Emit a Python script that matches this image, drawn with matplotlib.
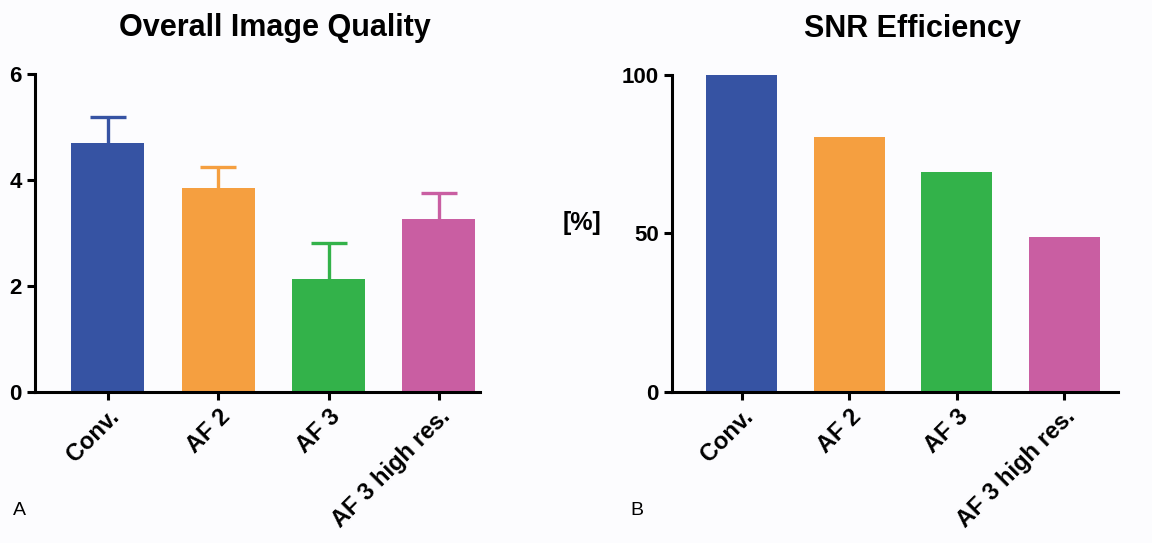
import matplotlib.pyplot as plt
import numpy as np

plt.rcParams['font.family'] = ['Liberation Sans', 'DejaVu Sans']

# data
groups = ['Conv.', 'AF 2', 'AF 3', 'AF 3 high res.']
quality_mean = [4.70, 3.85, 2.13, 3.26]
quality_sd = [0.49, 0.40, 0.68, 0.49]
snr_eff = [100, 80.4, 69.4, 48.9]
bar_colors = ['#3653a3', '#f59f40', '#33b24a', '#c95ea2']

fig = plt.figure(figsize=(11.52, 5.43), dpi=100)
fig.patch.set_facecolor('#fcfcfe')

ax1 = fig.add_axes([0.0304, 0.278, 0.386, 0.586])
ax2 = fig.add_axes([0.5833, 0.278, 0.387, 0.584])

x = np.arange(len(groups))

# Panel A: bars with upper error only
ax1.bar(x, quality_mean, width=0.66, color=bar_colors, zorder=2)
for xi, m, s, c in zip(x, quality_mean, quality_sd, bar_colors):
    _, caps, _ = ax1.errorbar(xi, m, yerr=[[0], [s]], color=c, capsize=13,
                              capthick=2.4, elinewidth=2.4, zorder=1)
    caps[0].set_visible(False)  # no cap on the lower (zero) side
ax1.set_ylim(0, 6)
ax1.set_yticks([0, 2, 4, 6])
ax1.set_xlim(-0.66, 3.37)
ax1.set_title('Overall Image Quality', fontsize=22, fontweight='bold', pad=27, x=0.54)

# Panel B
ax2.bar(x, snr_eff, width=0.66, color=bar_colors)
ax2.set_ylim(0, 100)
ax2.set_yticks([0, 50, 100])
ax2.set_xlim(-0.65, 3.5)
ax2.set_title('SNR Efficiency', fontsize=22, fontweight='bold', pad=27, x=0.54)
fig.text(582 / 1152, 1 - 223 / 543, '[%]', fontsize=18, fontweight='bold',
         ha='center', va='center')

for ax in (ax1, ax2):
    ax.set_facecolor('#fcfcfe')
    ax.spines['top'].set_visible(False)
    ax.spines['right'].set_visible(False)
    ax.spines['left'].set_linewidth(2.2)
    ax.spines['bottom'].set_linewidth(2.2)
    ax.tick_params(axis='both', width=2.2, length=6, labelsize=16)
    ax.set_xticks(x)
    ax.set_xticklabels(groups, rotation=45, ha='right', va='top',
                       rotation_mode='anchor', fontweight='bold', fontsize=17)
    for lbl in ax.get_yticklabels():
        lbl.set_fontweight('bold')

fig.text(0.011, 0.052, 'A', fontsize=14)
fig.text(0.547, 0.052, 'B', fontsize=14)

plt.savefig('out.png', dpi=100, facecolor=fig.get_facecolor())
